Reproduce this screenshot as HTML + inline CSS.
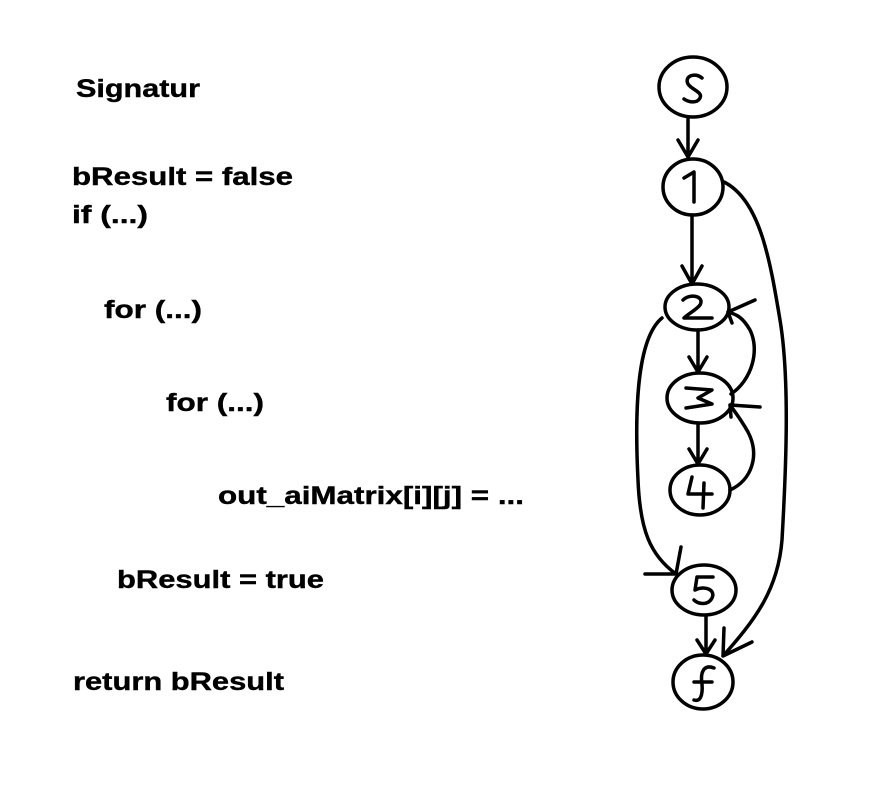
<!DOCTYPE html>
<html><head><style>
html,body{margin:0;padding:0;background:#fff;}
svg{display:block;}
text{font-family:"Liberation Sans",Arial,sans-serif;font-weight:bold;font-size:25px;fill:#000;stroke:#000;stroke-width:0.4px;}
</style></head><body>
<svg width="894" height="805" viewBox="0 0 894 805" xmlns="http://www.w3.org/2000/svg">
<rect width="894" height="805" fill="#fff"/>
<text x="76" y="97" textLength="124" lengthAdjust="spacingAndGlyphs">Signatur</text>
<text x="72" y="185" textLength="221" lengthAdjust="spacingAndGlyphs">bResult = false</text>
<text x="72" y="223" textLength="76" lengthAdjust="spacingAndGlyphs">if (...)</text>
<text x="104" y="318" textLength="98" lengthAdjust="spacingAndGlyphs">for (...)</text>
<text x="166" y="411" textLength="98" lengthAdjust="spacingAndGlyphs">for (...)</text>
<text x="218" y="504" textLength="306" lengthAdjust="spacingAndGlyphs">out_aiMatrix[i][j] = ...</text>
<text x="117" y="588" textLength="207" lengthAdjust="spacingAndGlyphs">bResult = true</text>
<text x="73" y="690" textLength="211" lengthAdjust="spacingAndGlyphs">return bResult</text>

<g fill="none" stroke="#000" stroke-width="3.5" stroke-linecap="round" stroke-linejoin="round">
<ellipse cx="693" cy="87" rx="34" ry="30"/>
<ellipse cx="693" cy="187" rx="30" ry="28"/>
<ellipse cx="697" cy="307" rx="32" ry="23"/>
<ellipse cx="700" cy="398" rx="33" ry="25"/>
<ellipse cx="700" cy="490" rx="30" ry="25"/>
<ellipse cx="704" cy="590" rx="32" ry="25"/>
<ellipse cx="703" cy="682" rx="30" ry="27"/>
<path d="M688 118 L688 157 M678 140 L688 157 L698 140"/>
<path d="M692 215 L692 284 M682 266 L692 284 L702 266"/>
<path d="M698 330 L698 372 M689 357 L698 372 L707 357"/>
<path d="M698 423 L698 464 M689 449 L698 464 L707 449"/>
<path d="M706 616 L706 654 M697 640 L706 654 L715 640"/>
<path d="M724 182 C760 200 770 260 780 320 C790 380 786 470 782 540 C778 590 755 620 723 656 M752 642 L723 656 M723 656 L724 628"/>
<path d="M662 318 C635 340 635 420 638 480 C640 530 650 555 676 574 M645 574 L676 574 M676 574 L681 547"/>
<path d="M731 394 C752 380 760 350 750 330 C742 316 735 314 728 312 M755 300 L728 312 M728 312 L732 323"/>
<path d="M730 490 C752 480 760 455 748 432 C740 418 735 412 730 405 M760 407 L730 405 M730 405 L731 417"/>
</g>
<g fill="none" stroke="#000" stroke-width="3.5" stroke-linecap="round" stroke-linejoin="round">
<path d="M702 78 C695 72 684 76 688 84 C692 90 703 92 700 98 C697 104 688 102 684 99"/>
<path d="M684 178 L694 172 L694 202"/>
<path d="M683 300 C690 293 705 296 700 305 C696 310 688 314 684 318 L712 318"/>
<path d="M686 388 L712 390 L698 398 L712 404 L686 408"/>
<path d="M692 477 L688 494 L712 494 M704 483 L703 508"/>
<path d="M713 577 L697 577 L695 590 C705 585 716 590 712 598 C708 606 698 604 694 600"/>
<path d="M714 668 C704 664 700 672 702 684 C703 696 700 702 694 700 M694 682 L712 682"/>
</g>
</svg>
</body></html>
